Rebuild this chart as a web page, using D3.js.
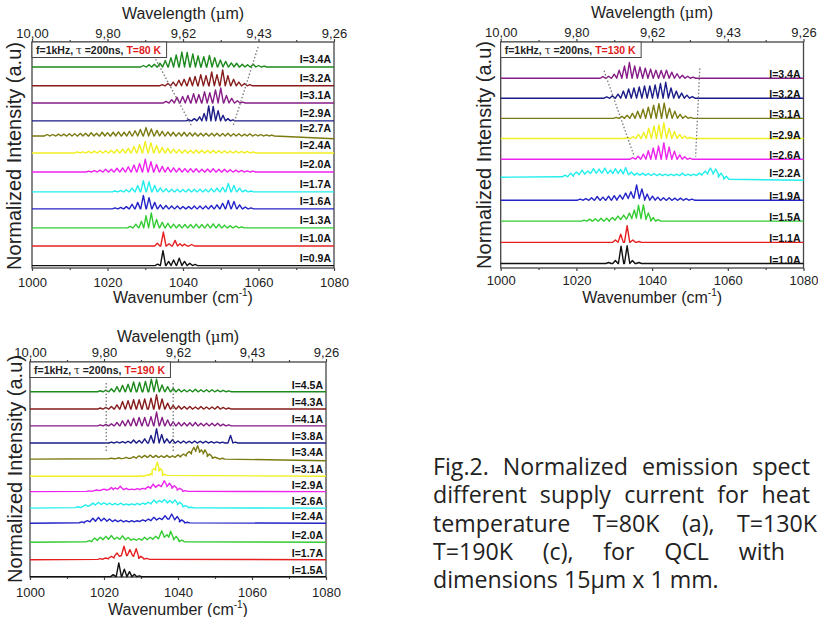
<!DOCTYPE html>
<html><head><meta charset="utf-8">
<script src="https://cdn.jsdelivr.net/npm/d3@7"></script>
<style>
body{margin:0;background:#fff}
</style></head><body>
<svg width="818" height="617" font-family="Liberation Sans, Arial, sans-serif"></svg>
<script>
const wnTicks=[1000,1020,1040,1060,1080], wnMinor=[1010,1030,1050,1070];
const palette=["#111","#e62020","#33cc33","#2424c8","#22eeee","#ee22ee","#f0f020","#7a7a10","#1c1c88","#861c86","#861c1c","#1c8a1c"];

// (a) T=80 K, traces bottom to top; peaks = [wavenumber, height, floor]
const currentsA=["0.9","1.0","1.3","1.6","1.7","2.0","2.4","2.7","2.9","3.1","3.2","3.4"];
const offsetsA=[0.13,1.18,2.15,3.17,4.08,5.15,6.17,7.08,7.89,8.85,9.77,10.78];
const driftA=[0,0,0,0,0,0,0,-0.15,0,0,0,0];
const peaksA=[
 [[1033.3,0.08],[1034.7,0.8],[1036.2,0.22],[1037.5,0.3],[1039,0.4],[1040.4,0.22],[1041.8,0.12],[1043.2,0.06]],
 [[1033.2,0.15],[1034.8,0.75],[1036.3,0.12],[1037.9,0.3],[1039.2,0.12],[1040.4,0.1],[1042.3,0.08]],
 [[1026,0.08],[1027.5,0.2],[1029,0.35],[1030.2,0.65],[1031.6,0.8],[1033,0.45],[1034.5,0.3],[1036,0.25],[1037.5,0.2],[1039,0.18],[1040.5,0.18],[1042,0.18],[1043.5,0.2],[1045,0.18],[1046.5,0.2],[1048,0.22],[1049.5,0.2],[1051,0.15],[1052.5,0.12],[1054,0.1],[1055.5,0.06]],
 [[1022,0.05],[1023.5,0.08],[1025,0.12],[1026.5,0.25],[1028,0.35],[1029.5,0.72],[1031,0.6],[1032.5,0.35],[1034,0.22],[1035.5,0.18],[1037,0.15],[1038.5,0.15],[1040,0.13],[1041.5,0.13],[1043,0.15],[1044.5,0.15],[1046,0.15],[1047.5,0.18],[1049,0.22],[1050.5,0.3],[1052,0.45],[1053.5,0.4],[1055,0.22],[1056.5,0.1],[1058,0.05]],
 [[1022,0.05],[1023.5,0.08],[1025,0.12],[1026.5,0.2],[1028,0.35],[1029.5,0.6],[1031,0.55],[1032.5,0.35],[1034,0.22],[1035.5,0.18],[1037,0.15],[1038.5,0.15],[1040,0.13],[1041.5,0.15],[1043,0.15],[1044.5,0.15],[1046,0.15],[1047.5,0.18],[1049,0.2],[1050.5,0.25],[1052,0.45],[1053.5,0.35],[1055,0.2],[1056.5,0.1],[1058,0.05]],
 [[1015,0.05],[1016.5,0.07],[1018,0.1],[1019.5,0.15],[1021,0.15],[1022.5,0.2],[1024,0.22],[1025.5,0.28],[1027,0.38],[1028.5,0.45],[1030,0.68],[1031.5,0.55],[1033,0.4],[1034.5,0.3],[1036,0.25],[1037.5,0.22],[1039,0.2],[1040.5,0.18],[1042,0.18],[1043.5,0.17],[1045,0.15],[1046.5,0.16],[1048,0.18],[1049.5,0.15],[1051,0.15],[1052.5,0.12],[1054,0.1],[1055.5,0.08],[1057,0.06],[1058.5,0.05]],
 [[1012,0.05],[1013.5,0.06],[1015,0.08],[1016.5,0.1],[1018,0.12],[1019.5,0.12],[1021,0.15],[1022.5,0.18],[1024,0.2],[1025.5,0.25],[1027,0.35],[1028.5,0.45],[1030,0.62],[1031.5,0.55],[1033,0.4],[1034.5,0.3],[1036,0.25],[1037.5,0.2],[1039,0.18],[1040.5,0.16],[1042,0.15],[1043.5,0.16],[1045,0.15],[1046.5,0.14],[1048,0.15],[1049.5,0.13],[1051,0.12],[1052.5,0.1],[1054,0.1],[1055.5,0.08],[1057,0.08],[1058.5,0.05]],
 [[1004,0.08],[1005.5,0.08],[1007,0.1],[1008.4,0.1],[1009.9,0.12],[1011.3,0.12],[1012.8,0.14],[1014.2,0.15],[1015.7,0.17],[1017.1,0.15],[1018.6,0.2],[1020,0.18],[1021.5,0.2],[1022.9,0.22],[1024.4,0.2],[1025.8,0.25],[1027.3,0.28],[1028.7,0.35],[1030.2,0.45],[1031.6,0.38],[1033.1,0.3],[1034.5,0.25],[1036,0.22],[1037.4,0.2],[1038.9,0.18],[1040.3,0.2],[1041.8,0.18],[1043.2,0.16],[1044.7,0.15],[1046.1,0.15],[1047.6,0.14],[1049,0.15],[1050.5,0.13],[1051.9,0.15],[1053.4,0.12],[1054.8,0.12],[1056.3,0.1],[1057.7,0.12],[1059.2,0.08],[1060.6,0.08],[1062.1,0.06],[1063.5,0.05]],
 [[1041.5,0.06],[1043,0.12],[1044.4,0.22],[1045.6,0.4],[1046.8,0.8],[1048,0.78],[1049.3,0.55],[1050.6,0.3],[1051.9,0.12],[1053.2,0.05]],
 [[1035.5,0.08],[1037,0.18],[1038.4,0.3],[1039.9,0.35],[1041.3,0.4],[1042.8,0.5],[1044.2,0.45],[1045.7,0.6],[1047.1,0.55],[1048.6,0.7],[1050,0.8],[1051.5,0.4],[1052.9,0.25],[1054.4,0.12],[1055.8,0.05]],
 [[1034.5,0.06],[1036,0.12],[1037.4,0.2],[1038.9,0.3],[1040.3,0.35],[1041.8,0.45],[1043.2,0.5],[1044.7,0.6],[1046.1,0.55],[1047.6,0.75],[1049,0.6],[1050.5,0.85],[1051.9,0.55],[1053.4,0.35],[1054.8,0.2],[1056.3,0.12],[1057.7,0.06]],
 [[1029.5,0.08],[1031,0.12],[1032.4,0.15],[1033.9,0.2],[1035.3,0.35],[1036.8,0.5],[1038.2,0.65],[1039.7,0.8],[1041.1,0.78],[1042.6,0.7],[1044,0.6],[1045.5,0.55],[1047,0.62],[1048.4,0.5],[1049.9,0.38],[1051.3,0.3],[1052.8,0.22],[1054.2,0.2],[1055.7,0.15],[1057.1,0.12],[1058.6,0.15],[1060,0.08],[1061.5,0.05]]
];
const guidesA=[[[1031,11.86],[1042.4,7.57]],[[1059.9,11.86],[1053.2,7.57]]];

// (b) T=130 K
const currentsB=["1.0","1.1","1.5","1.9","2.2","2.6","2.9","3.1","3.2","3.4"];
const offsetsB=[0.22,1.26,2.3,3.33,4.46,5.34,6.36,7.35,8.34,9.32];
const driftB=[0,0,0,0,-0.15,0,0,0,0,0];
const colorsB=["#111","#e62020","#33cc33","#2424c8","#22eeee","#ee22ee","#f0f020","#7a7a10","#1c1c88","#861c86"];
const peaksB=[
 [[1028.5,0.05],[1030.3,0.15],[1031.8,0.85],[1033.4,0.87],[1034.8,0.15],[1036.5,0.05]],
 [[1030.3,0.12],[1031.7,0.4],[1033.4,0.82],[1034.9,0.12],[1036.5,0.04]],
 [[1022,0.05],[1023.5,0.1],[1025,0.12],[1026.5,0.14],[1028,0.15],[1029.5,0.18,0.05],[1031,0.25,0.08],[1032.5,0.3,0.1],[1034,0.4,0.12],[1035.3,0.55,0.15],[1036.4,0.78,0.15],[1037.7,0.8,0.12],[1039,0.4,0.08],[1040.3,0.18],[1041.6,0.08]],
 [[1021,0.05],[1022.5,0.08],[1024,0.12],[1025.5,0.18],[1027,0.15],[1028.5,0.2],[1030,0.22],[1031.5,0.25,0.05],[1033,0.35,0.08],[1034.4,0.42,0.1],[1035.9,0.75,0.1],[1037.3,0.55,0.08],[1038.7,0.3],[1040.1,0.2],[1041.5,0.15],[1043,0.12],[1044.5,0.12],[1046,0.1],[1047.5,0.1],[1049,0.08],[1050.5,0.05]],
 [[1017,0.1,0.02],[1018.5,0.2,0.05],[1020,0.25,0.12],[1021.5,0.35,0.15],[1023,0.3,0.18],[1024.5,0.42,0.2],[1026,0.4,0.2],[1027.5,0.45,0.2],[1029,0.35,0.18],[1030.3,0.42,0.18],[1031.7,0.38,0.18],[1033,0.47,0.15],[1034.5,0.25,0.12],[1036,0.2,0.1],[1037.5,0.2,0.1],[1039,0.18,0.08],[1040.5,0.18,0.08],[1042,0.16,0.08],[1043.5,0.15,0.08],[1045,0.15,0.08],[1046.5,0.15,0.08],[1048,0.2,0.08],[1049.5,0.15,0.08],[1051,0.15,0.08],[1052.5,0.2,0.1],[1054,0.3,0.15],[1055.4,0.45,0.2],[1056.8,0.4,0.15],[1058.2,0.2,0],[1059.6,0.05,-0.1]],
 [[1034.9,0.08],[1036.3,0.15],[1037.7,0.25],[1039,0.42],[1040.3,0.55],[1041.7,0.65],[1043.1,0.8],[1044.5,0.6],[1045.9,0.4],[1047.3,0.22],[1048.6,0.12],[1050,0.06]],
 [[1033.5,0.05],[1035,0.1],[1036.4,0.2],[1037.8,0.3],[1039.1,0.5],[1040.5,0.62],[1041.8,0.68],[1043.1,0.78],[1044.5,0.5],[1045.9,0.35],[1047.3,0.2],[1048.6,0.12],[1050,0.05]],
 [[1030.5,0.05],[1032,0.1],[1033.4,0.15],[1034.8,0.25],[1036.2,0.35],[1037.6,0.45],[1039,0.55],[1040.4,0.65],[1041.8,0.72],[1043.2,0.75],[1044.6,0.5],[1046,0.35],[1047.4,0.2],[1048.8,0.12],[1050.2,0.05]],
 [[1028,0.06],[1029.5,0.12],[1031,0.2],[1032.4,0.35],[1033.8,0.45],[1035.2,0.5],[1036.6,0.55],[1038,0.6],[1039.4,0.6],[1040.8,0.65],[1042.2,0.72],[1043.6,0.78],[1045,0.5],[1046.4,0.35],[1047.8,0.25],[1049.2,0.15],[1050.6,0.08]],
 [[1027,0.08],[1028.5,0.1],[1030,0.2],[1031.3,0.4],[1032.7,0.6],[1034,0.78],[1035.4,0.6],[1036.8,0.55],[1038.2,0.5],[1039.6,0.45],[1041,0.4],[1042.4,0.38],[1043.8,0.4],[1045.2,0.3],[1046.6,0.22],[1048,0.15],[1049.4,0.1],[1050.8,0.06]]
];
const guidesB=[[[1027.3,9.69],[1035.3,5.47]],[[1052.6,9.81],[1051.5,5.47]]];

// (c) T=190 K
const currentsC=["1.5","1.7","2.0","2.4","2.6","2.9","3.1","3.4","3.8","4.1","4.3","4.5"];
const offsetsC=[0.02,1.03,2.07,3.2,4.1,5.08,6.0,7.02,7.98,9.0,10.0,11.03];
const driftC=[0,0,0,0,0,0,0,-0.1,0,0,0,0];
const peaksC=[
 [[1022.5,0.12],[1024,0.82],[1025.5,0.45],[1026.9,0.3],[1028.2,0.14],[1029.5,0.05]],
 [[1019,0.06,0.02],[1020.5,0.1,0.05],[1022,0.2,0.1],[1023.5,0.4,0.2],[1025.4,0.8,0.25],[1027,0.6,0.25],[1028.7,0.65,0.2],[1030,0.2,0.08],[1031.5,0.08,0.03]],
 [[1016,0.1,0.03],[1017.5,0.25,0.1],[1019,0.3,0.15],[1020.5,0.35,0.18],[1022,0.4,0.2],[1023.5,0.3,0.18],[1025,0.38,0.18],[1026.5,0.28,0.15],[1028,0.2,0.12],[1029.5,0.22,0.12],[1031,0.3,0.15],[1032.5,0.3,0.18],[1034,0.35,0.2],[1035.6,0.68,0.3],[1037,0.45,0.3],[1038,0.65,0.3],[1039.5,0.35,0.15],[1041,0.12,0.03]],
 [[1014,0.08,0.03],[1015.5,0.15,0.08],[1017,0.3,0.12],[1018.5,0.35,0.15],[1020,0.3,0.15],[1021.5,0.25,0.12],[1023,0.2,0.1],[1024.5,0.18,0.1],[1026,0.15,0.08],[1027.5,0.15,0.08],[1029,0.15,0.1],[1030.5,0.2,0.12],[1032,0.25,0.15],[1033.5,0.35,0.2],[1035,0.3,0.22],[1036.5,0.45,0.25],[1038.3,0.55,0.25],[1039.8,0.4,0.2],[1041,0.2,0.08],[1042.5,0.06,0.02]],
 [[1013,0.08,0.03],[1015,0.2,0.1],[1017,0.3,0.18],[1018.5,0.35,0.22],[1020,0.32,0.22],[1021.5,0.3,0.2],[1023,0.28,0.2],[1024.5,0.3,0.2],[1026,0.25,0.18],[1027.5,0.25,0.2],[1029,0.28,0.2],[1030.5,0.3,0.22],[1032,0.35,0.25],[1033.5,0.48,0.3],[1035,0.45,0.35],[1036.3,0.52,0.35],[1037.8,0.45,0.3],[1039.2,0.48,0.3],[1040.5,0.35,0.2],[1042,0.15,0.08],[1043.5,0.05,0.02]],
 [[1016,0.05,0.02],[1018,0.1,0.06],[1020,0.15,0.1],[1022,0.25,0.12],[1023,0.22,0.15],[1024.4,0.32,0.15],[1026,0.2,0.12],[1027.5,0.15,0.12],[1029,0.18,0.12],[1030.5,0.2,0.15],[1032,0.3,0.2],[1033.3,0.45,0.25],[1034.8,0.4,0.3],[1036.3,0.65,0.35],[1037.7,0.5,0.3],[1039,0.35,0.2],[1040.5,0.2,0.1],[1042,0.06,0.02]],
 [[1030,0.03],[1032,0.08,0.04],[1032.5,0.15,0.08],[1033.5,0.45,0.35],[1034.4,0.83,0.5],[1035.3,0.45,0.3],[1036.3,0.12,0.05]],
 [[1022,0.06,0.02],[1024,0.08,0.03],[1026,0.1,0.04],[1028,0.15,0.05],[1029.5,0.2,0.08],[1031,0.22,0.1],[1032.5,0.25,0.1],[1034,0.22,0.1],[1035.5,0.2,0.1],[1037,0.22,0.1],[1038.5,0.2,0.1],[1040,0.25,0.12],[1041.5,0.3,0.18],[1043,0.45,0.3],[1044.3,0.7,0.45],[1045.3,0.8,0.5],[1046.3,0.55,0.4],[1047.3,0.55,0.3],[1048.5,0.3,0.15],[1050,0.12,0.05],[1052,0.05,0]],
 [[1022,0.05],[1023.5,0.06],[1025,0.08],[1026.5,0.1],[1028,0.18],[1029.5,0.15],[1031,0.25],[1032.7,0.45],[1034.2,0.85],[1035.6,0.5],[1037,0.25],[1038.5,0.2],[1040,0.12],[1041.5,0.12],[1043,0.1],[1044.5,0.12],[1046,0.1],[1047.5,0.1],[1049,0.08],[1050.5,0.06],[1052,0.05],[1054.2,0.45],[1055.5,0.05]],
 [[1019,0.06],[1020.5,0.08],[1022,0.12],[1023.5,0.2],[1025,0.3],[1026.5,0.35],[1028,0.45],[1029.5,0.5],[1031,0.5],[1032.7,0.55],[1034.2,0.82],[1035.7,0.5],[1037.2,0.35],[1038.7,0.25],[1040.2,0.2],[1041.7,0.18],[1043.2,0.18],[1044.7,0.2],[1046.2,0.15],[1047.7,0.15],[1049.2,0.15],[1050.7,0.15],[1052.2,0.1],[1053.7,0.06]],
 [[1019,0.06],[1020.5,0.1],[1022,0.15],[1023.5,0.25],[1025,0.45],[1026.5,0.5],[1028,0.55],[1029.5,0.55],[1031,0.6],[1032.7,0.65],[1034.2,0.85],[1035.7,0.6],[1037.2,0.35],[1038.7,0.22],[1040.2,0.18],[1041.7,0.15],[1043.2,0.15],[1044.7,0.12],[1046.2,0.15],[1047.7,0.12],[1049.2,0.12],[1050.7,0.15],[1052.2,0.1],[1053.7,0.06]],
 [[1019,0.06],[1020.5,0.1],[1022,0.18],[1023.5,0.3],[1025,0.38],[1026.5,0.45],[1028,0.58],[1029.6,0.55],[1031.2,0.62],[1032.8,0.75],[1034.2,0.75],[1035.7,0.4],[1037.2,0.3],[1038.7,0.2],[1040.2,0.15],[1041.7,0.12],[1043.2,0.12],[1044.7,0.15],[1046.2,0.12],[1047.7,0.12],[1049.2,0.12],[1050.7,0.1],[1052.2,0.08],[1053.7,0.05]]
];
const guidesC=[[[1020.6,11.55],[1020.6,7.44]],[[1038.7,11.55],[1038.7,7.44]]];

// caption, as far as it is visible in the figure
const captionLines=["Fig.2. Normalized emission spect","different supply current for heat","temperature T=80K (a), T=130K","T=190K (c), for QCL with","dimensions 15µm x 1 mm."];
const captionWidth=[377,377,384,352,0];

const svg=d3.select("svg");

function tracePoints(pk,end){
  const pts=[[1000,0]];
  pk.forEach((p,i)=>{
    const prev=pk[i-1], next=pk[i+1];
    const wl=prev?Math.min(0.7,(p[0]-prev[0])/2):0.7;
    const wr=next?Math.min(0.7,(next[0]-p[0])/2):0.7;
    const f=p[2]||0;
    pts.push([p[0]-wl,f],[p[0],p[1]],[p[0]+wr,f]);
  });
  pts.push([1080,end||0]);
  return pts;
}

function drawPanel(p){
  const x=d3.scaleLinear().domain([1000,1080]).range([p.left,p.right]);
  const y=d3.scaleLinear().domain([0,p.ymax]).range([p.bottom,p.top]);
  const g=svg.append("g");

  // axes
  const bottom=g.append("g").attr("transform","translate(0,"+p.bottom+")")
    .call(d3.axisBottom(x).tickValues(wnTicks).tickSize(3).tickFormat(d3.format("d")));
  g.append("g").attr("transform","translate(0,"+p.bottom+")")
    .call(d3.axisBottom(x).tickValues(wnMinor).tickSize(2).tickFormat(""));
  const top=g.append("g").attr("transform","translate(0,"+p.top+")")
    .call(d3.axisTop(x).tickValues(wnTicks).tickSize(3).tickFormat(d=>d3.format(".2f")(10000/d).replace(".",",")));
  g.append("g").attr("transform","translate(0,"+p.top+")")
    .call(d3.axisTop(x).tickValues(wnMinor).tickSize(2).tickFormat(""));
  g.selectAll(".domain").remove();
  g.selectAll(".tick line").attr("stroke","#444").attr("stroke-width",1.2);
  g.selectAll(".tick text").style("font-family","Liberation Sans, Arial, sans-serif").style("font-size","13px").attr("fill","#222");
  bottom.selectAll("text").attr("y",p.botLab-p.bottom).attr("dy",null);
  top.selectAll("text").attr("y",p.topLab-p.top).attr("dy",null);

  g.append("rect").attr("x",p.left).attr("y",p.top).attr("width",p.right-p.left).attr("height",p.bottom-p.top)
    .attr("fill","none").attr("stroke","#444").attr("stroke-width",1.3);

  // titles
  const xt=g.append("text").attr("x",(p.left+p.right)/2).attr("y",p.botTitle).attr("text-anchor","middle").attr("font-size",16).attr("fill","#222");
  xt.append("tspan").text("Wavenumber (cm");
  xt.append("tspan").attr("font-size",10).attr("dy",-7).text("-1");
  xt.append("tspan").attr("dy",7).text(")");
  const tt=g.append("text").attr("x",(p.left+p.right)/2).attr("y",p.topTitle).attr("text-anchor","middle").attr("font-size",16).attr("fill","#222");
  tt.append("tspan").text("Wavelength (");
  tt.append("tspan").style("font-family","DejaVu Serif").attr("font-size",15).text("μ");
  tt.append("tspan").text("m)");
  g.append("text").attr("transform","translate("+p.yTitleX+","+p.yTitleY+") rotate(-90)")
    .attr("text-anchor","middle").attr("font-size",20).attr("fill","#222").text("Normalized Intensity (a.u)");

  // spectra
  const line=d3.line().x(d=>x(d[0])).y(d=>d[1]);
  p.peaks.forEach((pk,i)=>{
    const off=p.offsets[i];
    const pts=tracePoints(pk,p.drift[i]).map(d=>[d[0],y(off+d[1])]);
    g.append("path").attr("d",line(pts)).attr("fill","none").attr("stroke",p.colors[i])
      .attr("stroke-width",1.4).attr("stroke-linejoin","round");
    g.append("text").attr("x",p.right-3).attr("y",y(off)+p.labDy).attr("text-anchor","end")
      .attr("font-size",10.5).attr("font-weight","bold").attr("fill","#111").text("I="+p.currents[i]+"A");
  });

  // dotted guides
  const gl=d3.line().x(d=>x(d[0])).y(d=>y(d[1]));
  p.guides.forEach(gd=>{
    g.append("path").attr("d",gl(gd)).attr("fill","none").attr("stroke","#777")
      .attr("stroke-width",1.3).attr("stroke-dasharray","1.5,2");
  });

  // legend box
  const lg=g.append("g");
  const lt=lg.append("text").attr("x",p.left+4).attr("y",p.top+11.5).attr("font-size",10.5).attr("font-weight","bold").attr("fill","#222");
  lt.append("tspan").text("f=1kHz, ");
  lt.append("tspan").attr("font-weight","normal").style("font-family","DejaVu Serif").text("τ");
  lt.append("tspan").text(" =200ns, ");
  lt.append("tspan").attr("fill","#e01b1b").text("T="+p.temp+" K");
  const bb=lt.node().getBBox();
  lg.insert("rect","text").attr("x",p.left).attr("y",p.top).attr("width",bb.x+bb.width+5-p.left).attr("height",15.5)
    .attr("fill","#fff").attr("stroke","#444").attr("stroke-width",1);
}

drawPanel({left:32,right:334,top:42,bottom:268,ymax:12.12,botLab:286.5,botTitle:303,topLab:38,topTitle:19,
  yTitleX:21,yTitleY:156,labDy:-4,temp:"80",currents:currentsA,offsets:offsetsA,drift:driftA,colors:palette,peaks:peaksA,guides:guidesA});
drawPanel({left:500.7,right:803.5,top:42,bottom:268,ymax:11.1,botLab:285,botTitle:303,topLab:37,topTitle:18,
  yTitleX:491,yTitleY:155,labDy:0,temp:"130",currents:currentsB,offsets:offsetsB,drift:driftB,colors:colorsB,peaks:peaksB,guides:guidesB});
drawPanel({left:30,right:326,top:362,bottom:577,ymax:12.8,botLab:597,botTitle:615,topLab:357,topTitle:342,
  yTitleX:22,yTitleY:469,labDy:-3,temp:"190",currents:currentsC,offsets:offsetsC,drift:driftC,colors:palette,peaks:peaksC,guides:guidesC});

// caption, justified lines
svg.append("g").selectAll("text").data(captionLines).join("text")
  .attr("x",433).attr("y",(d,i)=>475+i*28.3)
  .style("font-family","Open Sans").style("font-size","23.2px").attr("fill","#222")
  .text(d=>d)
  .each(function(d,i){
    if(!captionWidth[i]) return;
    const len=this.getComputedTextLength(), gaps=d.split(" ").length-1;
    d3.select(this).attr("word-spacing",(captionWidth[i]-len)/gaps);
  });
</script></body></html>
